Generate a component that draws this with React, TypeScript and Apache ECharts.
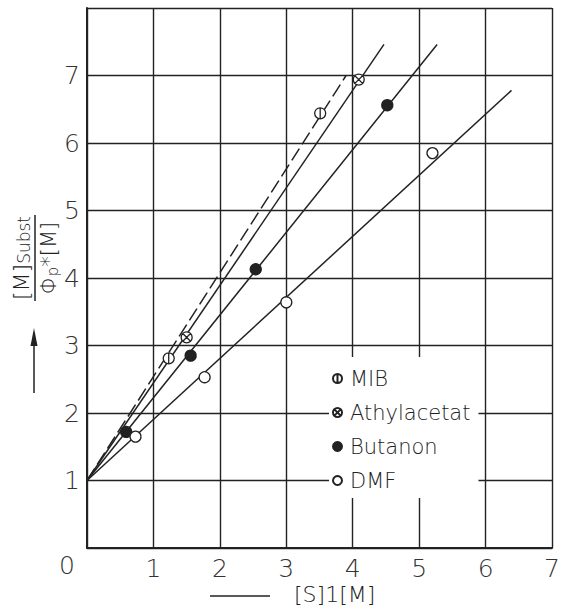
import React, { useEffect, useRef } from "react";
import * as echarts from "echarts";

const seriesNames = ["MIB", "Athylacetat", "Butanon", "DMF"];
const mibX = [1.23, 3.51];
const mibY = [2.81, 6.44];
const athX = [1.5, 4.09];
const athY = [3.12, 6.94];
const butX = [0.59, 1.56, 2.54, 4.52];
const butY = [1.72, 2.85, 4.13, 6.56];
const dmfX = [0.73, 1.77, 3.0, 5.2];
const dmfY = [1.65, 2.53, 3.64, 5.85];
const lineStart = [0, 1];
const lineEnds = [
  [3.9, 7.0],
  [4.47, 7.46],
  [5.27, 7.46],
  [6.39, 6.78],
];
const xTickLabels = ["0", "1", "2", "3", "4", "5", "6", "7"];
const yTickLabels = ["0", "1", "2", "3", "4", "5", "6", "7", "8"];

const FONT = "DejaVu Sans";
const INK = "#222";

const symMIB =
  "path://M10,0A10,10,0,1,1,-10,0A10,10,0,1,1,10,0ZM0,-10L0,10";
const symATH =
  "path://M10,0A10,10,0,1,1,-10,0A10,10,0,1,1,10,0ZM-7,-7L7,7M7,-7L-7,7";

function zip(xs: number[], ys: number[]) {
  return xs.map((x, i) => [x, ys[i]]);
}

export default function App() {
  const ref = useRef<HTMLDivElement>(null);
  useEffect(() => {
    if (!ref.current) return;
    const chart = echarts.init(ref.current, null, { renderer: "svg" });
    const pts = [zip(mibX, mibY), zip(athX, athY), zip(butX, butY), zip(dmfX, dmfY)];
    const symbols = [symMIB, symATH, "circle", "circle"];
    const fills = ["#fff", "#fff", INK, "#fff"];
    const lineSeries = lineEnds.map((end, i) => ({
      type: "line",
      name: seriesNames[i] + " Gerade",
      data: [lineStart, end],
      showSymbol: false,
      symbol: "none",
      lineStyle: { color: INK, width: 1.5, type: i === 0 ? [14, 5] : "solid" },
      z: 3,
      silent: true,
    }));
    const scatterSeries = pts.map((d, i) => ({
      type: "scatter",
      name: seriesNames[i],
      data: d,
      symbol: symbols[i],
      symbolSize: 11,
      itemStyle: { color: fills[i], borderColor: INK, borderWidth: 1.3, opacity: 1 },
      z: 4,
    }));
    chart.setOption({
      animation: false,
      backgroundColor: "#fff",
      grid: { left: 87, top: 8, right: 5, bottom: 67 },
      xAxis: {
        type: "value",
        min: 0,
        max: 7,
        interval: 1,
        axisLine: { show: true, onZero: false, lineStyle: { color: INK, width: 2 } },
        axisTick: { show: false },
        splitLine: { show: true, lineStyle: { color: INK, width: 1.4 } },
        axisLabel: {
          margin: 8,
          fontFamily: FONT,
          fontWeight: 200,
          fontSize: 25,
          color: "#333",
          formatter: (v: number) => (v === 0 ? "" : xTickLabels[v]),
        },
      },
      yAxis: {
        type: "value",
        min: 0,
        max: 8,
        interval: 1,
        axisLine: { show: true, onZero: false, lineStyle: { color: INK, width: 2 } },
        axisTick: { show: false },
        splitLine: { show: true, lineStyle: { color: INK, width: 1.4 } },
        axisLabel: {
          margin: 7,
          fontFamily: FONT,
          fontWeight: 200,
          fontSize: 25,
          color: "#333",
          formatter: (v: number) => (v === 0 || v === 8 ? "" : yTickLabels[v]),
        },
      },
      legend: {
        data: seriesNames,
        orient: "vertical",
        left: 329,
        top: 357,
        padding: [10, 8, 6, 3],
        backgroundColor: "#fff",
        itemWidth: 9,
        itemHeight: 9,
        itemGap: 11,
        textStyle: {
          fontFamily: FONT,
          fontWeight: 200,
          fontSize: 21,
          lineHeight: 23,
          color: INK,
          padding: [0, 0, 0, 3],
        },
        z: 2,
      },
      graphic: [
        {
          type: "text",
          left: 59,
          top: 553,
          style: { text: "0", font: `200 25px "${FONT}"`, fill: "#333" },
        },
        {
          type: "group",
          x: 35,
          y: 258,
          rotation: Math.PI / 2,
          children: [
            {
              type: "text",
              x: 0,
              y: -14,
              style: {
                text: "{a|[M]}{s|Subst}",
                align: "center",
                verticalAlign: "middle",
                fill: INK,
                rich: {
                  a: { fontFamily: FONT, fontWeight: 200, fontSize: 22, fill: INK },
                  s: { fontFamily: FONT, fontWeight: 200, fontSize: 17, fill: INK, padding: [6, 0, 0, 0] },
                },
              },
            },
            {
              type: "line",
              shape: { x1: -43, y1: 0, x2: 43, y2: 0 },
              style: { stroke: INK, lineWidth: 1.5 },
            },
            {
              type: "text",
              x: 0,
              y: 14,
              style: {
                text: "{a|Φ}{s|p}{a|*[M]}",
                align: "center",
                verticalAlign: "middle",
                fill: INK,
                rich: {
                  a: { fontFamily: FONT, fontWeight: 200, fontSize: 21, fill: INK },
                  s: { fontFamily: FONT, fontWeight: 200, fontSize: 15, fill: INK, padding: [8, 0, 0, 0] },
                },
              },
            },
          ],
        },
        {
          type: "line",
          shape: { x1: 34, y1: 393, x2: 34, y2: 340 },
          style: { stroke: INK, lineWidth: 1.5 },
        },
        {
          type: "polygon",
          shape: { points: [[34, 328], [30.5, 346], [37.5, 346]] },
          style: { fill: INK },
        },
        {
          type: "line",
          shape: { x1: 210, y1: 596, x2: 270, y2: 596 },
          style: { stroke: INK, lineWidth: 1.5 },
        },
        {
          type: "text",
          left: 294,
          top: 583,
          style: { text: "[S]1[M]", font: `200 22px "${FONT}"`, fill: INK },
        },
      ],
      series: [...lineSeries, ...scatterSeries],
    });
    return () => chart.dispose();
  }, []);
  return (
    <div
      ref={ref}
      style={{ position: "fixed", left: 0, top: 0, width: 563, height: 615 }}
    />
  );
}
